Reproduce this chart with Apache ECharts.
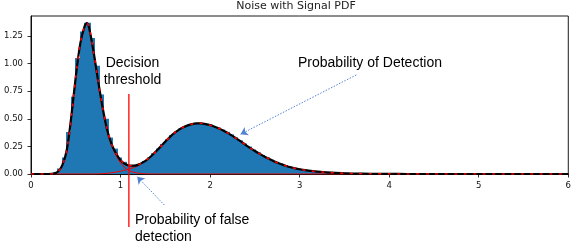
<!DOCTYPE html>
<html>
<head>
<meta charset="utf-8">
<script src="https://cdn.jsdelivr.net/npm/echarts@6/dist/echarts.min.js"></script>
<style>
html,body{margin:0;padding:0;background:#fff;}
#c{width:574px;height:244px;}
</style>
</head>
<body>
<div id="c"></div>
<script>
// ---- data ----
const curveX = [0,0.05,0.1,0.15,0.2,0.25,0.3,0.35,0.4,0.45,0.5,0.55,0.6,0.625,0.65,0.7,0.75,0.8,0.85,0.9,0.95,1.0,1.05,1.1,1.15,1.2,1.25,1.3,1.35,1.4,1.45,1.5,1.55,1.6,1.65,1.7,1.75,1.8,1.85,1.9,1.95,2.0,2.05,2.1,2.15,2.2,2.25,2.3,2.35,2.4,2.45,2.5,2.55,2.6,2.65,2.7,2.75,2.8,2.85,2.9,2.95,3.0,3.1,3.2,3.3,3.4,3.5,3.6,3.8,4.0,4.2,4.5,5,5.5,6];
const noisePdf = [0,0,0,0,0,0.003,0.02,0.08,0.22,0.52,0.88,1.18,1.34,1.365,1.32,1.10,0.839,0.597,0.394,0.259,0.167,0.099,0.055,0.029,0.015,0.007,0.003,0.001,0,0,0,0,0,0,0,0,0,0,0,0,0,0,0,0,0,0,0,0,0,0,0,0,0,0,0,0,0,0,0,0,0,0,0,0,0,0,0,0,0,0,0,0,0,0,0];
const signalPdf = [0,0,0,0,0,0,0,0,0,0,0,0,0,0,0,0,0.001,0.003,0.006,0.011,0.018,0.026,0.035,0.046,0.060,0.078,0.102,0.132,0.168,0.208,0.250,0.293,0.334,0.370,0.400,0.423,0.440,0.452,0.458,0.459,0.452,0.442,0.428,0.412,0.392,0.370,0.345,0.318,0.290,0.262,0.234,0.208,0.184,0.161,0.140,0.120,0.102,0.087,0.073,0.061,0.051,0.043,0.030,0.021,0.015,0.010,0.007,0.004,0.002,0.001,0,0,0,0,0];
const totalPdf = [0,0,0,0,0,0.003,0.02,0.08,0.22,0.52,0.88,1.18,1.34,1.365,1.32,1.10,0.84,0.60,0.40,0.27,0.185,0.125,0.09,0.075,0.075,0.085,0.105,0.133,0.168,0.208,0.250,0.293,0.334,0.370,0.400,0.423,0.440,0.452,0.458,0.459,0.452,0.442,0.428,0.412,0.392,0.370,0.345,0.318,0.290,0.262,0.234,0.208,0.184,0.161,0.140,0.120,0.102,0.087,0.073,0.061,0.051,0.043,0.030,0.021,0.015,0.010,0.007,0.004,0.002,0.001,0,0,0,0,0];

const binCenters = [0.175,0.225,0.275,0.325,0.375,0.425,0.475,0.525,0.575,0.625,0.675,0.725,0.775,0.825,0.875,0.925,0.975,1.025,1.075,1.125,1.175,1.225,1.275,1.325,1.375,1.425,1.475,1.525,1.575,1.625,1.675,1.725,1.775,1.825,1.875,1.925,1.975,2.025,2.075,2.125,2.175,2.225,2.275,2.325,2.375,2.425,2.475,2.525,2.575,2.625,2.675,2.725,2.775,2.825,2.875,2.925,2.975,3.025,3.075,3.125,3.175,3.225,3.275,3.325,3.375,3.425,3.475,3.525,3.575,3.625];
const binHeights = [0,0.002,0.012,0.05,0.15,0.38,0.70,1.05,1.29,1.37,1.23,0.98,0.72,0.50,0.33,0.23,0.15,0.11,0.08,0.072,0.08,0.095,0.118,0.15,0.188,0.23,0.272,0.314,0.352,0.386,0.412,0.432,0.446,0.455,0.46,0.456,0.447,0.435,0.42,0.402,0.381,0.358,0.332,0.304,0.276,0.248,0.221,0.196,0.172,0.15,0.13,0.111,0.094,0.08,0.067,0.056,0.047,0.039,0.033,0.027,0.023,0.019,0.016,0.013,0.011,0.009,0.007,0.006,0.004,0.003];
const binWidth = 0.05;

const thresholdX = [1.093, 1.093];
const thresholdY = [0.725, -0.48];

const arrowFrom = [[3.633, 0.897], [1.489, -0.281]];
const arrowTo   = [[2.34, 0.36], [1.186, -0.024]];

const xTicks = [0,1,2,3,4,5,6];
const yTicks = [0,0.25,0.5,0.75,1.0,1.25];

const titleText = 'Noise with Signal PDF';
const labelDecision = 'Decision\nthreshold';
const labelDetection = 'Probability of Detection';
const labelFalse = 'Probability of false\ndetection';

// ---- chart ----
const pairs = (xs, ys) => xs.map((x, i) => [x, ys[i]]);
const chart = echarts.init(document.getElementById('c'), null, {renderer: 'canvas'});
const tickFont = {fontFamily: 'DejaVu Sans', fontSize: 8.5, color: '#111'};

chart.setOption({
  animation: false,
  grid: {left: 31, right: 3, top: 16, bottom: 70, show: true, borderColor: '#000', borderWidth: 0.9, backgroundColor: 'transparent'},
  xAxis: {
    type: 'value', min: 0, max: 6, interval: 1,
    axisLine: {show: true, lineStyle: {color: '#000', width: 0.9}},
    axisTick: {show: true, length: 3.5, lineStyle: {color: '#000', width: 0.8}},
    axisLabel: Object.assign({margin: 7, formatter: v => xTicks.includes(v) ? String(v) : ''}, tickFont),
    splitLine: {show: false}
  },
  yAxis: {
    type: 'value', min: 0, max: 1.43, interval: 0.25,
    axisLine: {show: true, lineStyle: {color: '#000', width: 0.9}},
    axisTick: {show: true, length: 3.5, lineStyle: {color: '#000', width: 0.8}},
    axisLabel: Object.assign({margin: 8, showMaxLabel: false,
      formatter: v => yTicks.some(t => Math.abs(t - v) < 1e-9) ? v.toFixed(2) : ''}, tickFont),
    splitLine: {show: false}
  },
  graphic: [
    {type: 'text', x: 296, y: 1, z: 100, style: {text: titleText, fontFamily: 'DejaVu Sans', fontSize: 11, fill: '#222', textAlign: 'center'}},
    {type: 'text', x: 132.5, y: 55, z: 100, style: {text: labelDecision, fontFamily: 'Liberation Sans', fontSize: 14, lineHeight: 17, fill: '#000', textAlign: 'center'}},
    {type: 'text', x: 298, y: 55, z: 100, style: {text: labelDetection, fontFamily: 'Liberation Sans', fontSize: 14, lineHeight: 17, fill: '#000'}},
    {type: 'text', x: 135, y: 212, z: 100, style: {text: labelFalse, fontFamily: 'Liberation Sans', fontSize: 14, lineHeight: 17, fill: '#000'}}
  ],
  series: [
    {
      type: 'custom', z: 1, silent: true, clip: true,
      data: pairs(binCenters, binHeights),
      renderItem: (params, api) => {
        const c = api.value(0), h = api.value(1);
        const p0 = api.coord([c - binWidth / 2, h]);
        const p1 = api.coord([c + binWidth / 2, 0]);
        return {type: 'rect', shape: {x: Math.floor(p0[0]), y: p0[1], width: Math.ceil(p1[0]) - Math.floor(p0[0]) + 1, height: p1[1] - p0[1]},
          style: {fill: '#1f77b4'}};
      }
    },
    {type: 'line', z: 2, data: pairs(curveX, noisePdf), smooth: 0.3, showSymbol: false, symbol: 'none',
      lineStyle: {color: '#ff0000', width: 1}},
    {type: 'line', z: 2, data: pairs(curveX, signalPdf), smooth: 0.3, showSymbol: false, symbol: 'none',
      lineStyle: {color: '#ff0000', width: 1}},
    {type: 'line', z: 3, data: pairs(curveX, totalPdf), smooth: 0.3, showSymbol: false, symbol: 'none',
      lineStyle: {color: '#000', width: 2.2}},
    {type: 'line', z: 4, data: pairs(curveX, totalPdf), smooth: 0.3, showSymbol: false, symbol: 'none',
      lineStyle: {color: '#ff0000', width: 1.6, type: [3, 6.5]}},
    {type: 'line', z: 5, data: pairs(thresholdX, thresholdY), clip: false, showSymbol: false, symbol: 'none',
      lineStyle: {color: '#ff0000', width: 1.3}},
    {type: 'lines', z: 6, coordinateSystem: 'cartesian2d', clip: false, silent: true,
      symbol: ['none', 'arrow'], symbolSize: [5, 7],
      lineStyle: {color: '#4f82d3', width: 1, type: [1.5, 1.5], opacity: 1},
      data: arrowFrom.map((f, i) => ({coords: [f, arrowTo[i]]}))}
  ]
});
</script>
</body>
</html>
